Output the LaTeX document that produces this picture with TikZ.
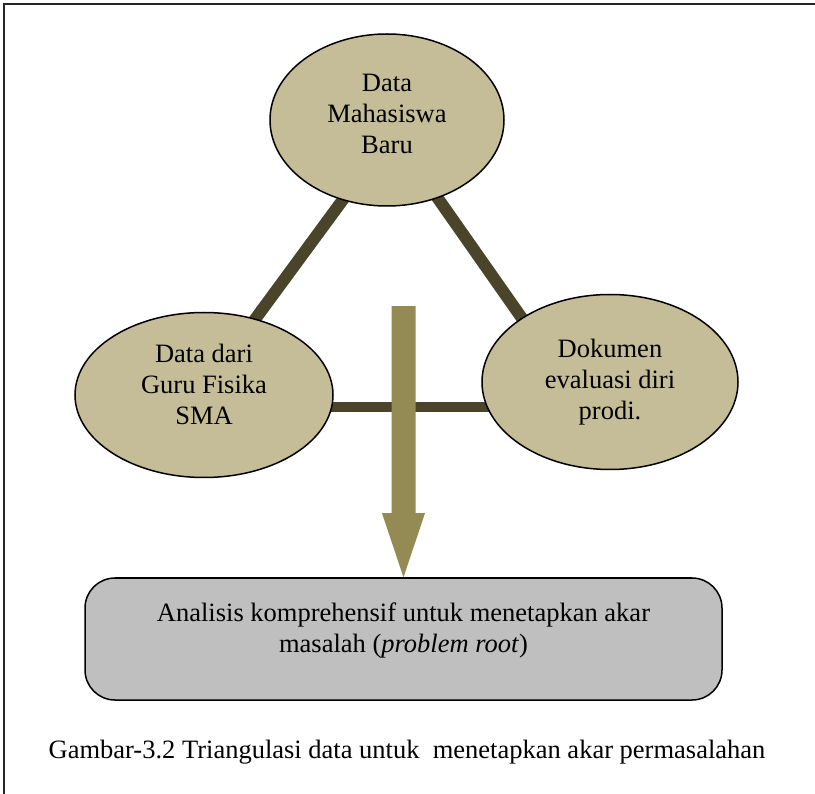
\documentclass[tikz,border=0pt]{standalone}
\usepackage{fontspec}
\setmainfont{Liberation Serif}
\usetikzlibrary{shapes.geometric,backgrounds}
\definecolor{tanfill}{HTML}{C4BD97}
\definecolor{linkcol}{HTML}{4A442A}
\definecolor{arrowcol}{HTML}{948A54}
\definecolor{boxfill}{HTML}{BFBFBF}
% centred lines of text, drawn #1 higher while keeping their box size
\newcommand{\liftlines}[2]{\raisebox{#1}[\height][\depth]{\begin{tabular}{@{}c@{}}#2\end{tabular}}}
\tikzset{
  source/.style={ellipse, draw=black, line width=1.5pt, fill=tanfill,
    inner sep=0pt},
  link/.style={draw=linkcol, line width=12pt, shorten <=-8pt, shorten >=-8pt},
  resultbox/.style={draw=black, line width=1.5pt, fill=boxfill,
    rounded corners=30pt, minimum width=637pt, minimum height=122pt,
    inner sep=0pt},
  frame/.style={draw=black!85, line width=2pt},
}
\begin{document}
\begin{tikzpicture}[x=1pt, y=-1pt, font=\fontsize{26.5}{31}\selectfont]
  \useasboundingbox (0,0) rectangle (815,794);
  % outer frame
  \draw[frame] (4,4) rectangle (830,810);

  % data sources
  \node[source, minimum width=234pt, minimum height=172pt] (mhs) at (387,120)
    {\liftlines{4pt}{Data\\Mahasiswa\\Baru}};
  \node[source, minimum width=258pt, minimum height=165pt] (guru) at (204,395)
    {\liftlines{8pt}{Data dari\\Guru Fisika\\SMA}};
  \node[source, minimum width=256pt, minimum height=175pt] (dok) at (610,382)
    {\liftlines{0pt}{Dokumen\\evaluasi diri\\prodi.}};

  % result
  \node[resultbox] (analisis) at (403.5,639)
    {\liftlines{8pt}{Analisis komprehensif untuk menetapkan akar\\masalah (\textit{problem root})}};

  % triangle of links behind the ellipses
  \begin{pgfonlayer}{background}
    \draw[link] (mhs.241) -- (guru.56);
    \draw[link] (mhs.-57) -- (dok.144);
    \coordinate (hl) at ([yshift=-12pt]guru.center);
    \draw[link, line width=10pt, shorten <=0pt, shorten >=0pt] (hl) -- (hl -| dok.center);
  \end{pgfonlayer}

  % block arrow into the result box
  \fill[arrowcol]
    ([xshift=-12pt, yshift=271pt]analisis.north) --
    ([xshift=12pt, yshift=271pt]analisis.north) --
    ([xshift=12pt, yshift=64pt]analisis.north) --
    ([xshift=21.5pt, yshift=64pt]analisis.north) --
    (analisis.north) --
    ([xshift=-21.5pt, yshift=64pt]analisis.north) --
    ([xshift=-12pt, yshift=64pt]analisis.north) -- cycle;

  % caption
  \node (caption) at (407,752)
    {Gambar-3.2 Triangulasi data untuk~ menetapkan akar permasalahan};
\end{tikzpicture}
\end{document}
